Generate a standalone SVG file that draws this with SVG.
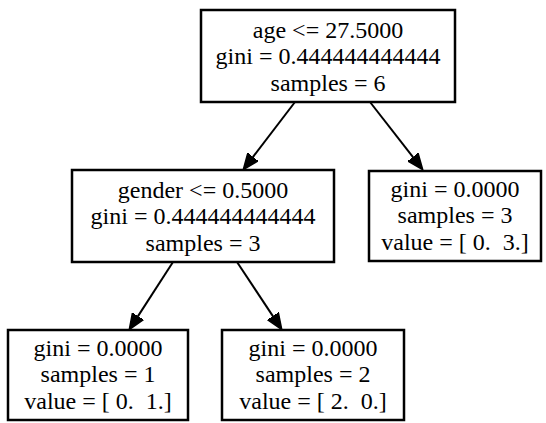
<svg xmlns="http://www.w3.org/2000/svg" width="546" height="423" viewBox="0 0 546 423">
<style>
.box{fill:#fff;stroke:#000;stroke-width:2.5}
text{font-family:"Liberation Serif","Times New Roman",serif;font-size:24px;fill:#000;text-anchor:middle;white-space:pre}
.edge{stroke:#000;stroke-width:2;fill:none}
</style>
<defs>
<marker id="ah" viewBox="0 -7 17 14" markerWidth="17" markerHeight="14" refX="0.5" refY="0" orient="auto" markerUnits="userSpaceOnUse">
<path d="M0,-6.5 L16,0 L0,6.5 z" fill="#000" stroke="#000" stroke-width="1.5"/>
</marker>
</defs>
<rect width="546" height="423" fill="#fff"/>
<g id="edges">
<line class="edge" x1="295" y1="102" x2="252.7" y2="157.3" marker-end="url(#ah)"/>
<line class="edge" x1="370" y1="102" x2="413.2" y2="157.4" marker-end="url(#ah)"/>
<line class="edge" x1="173" y1="262" x2="137.7" y2="316.6" marker-end="url(#ah)"/>
<line class="edge" x1="237" y1="262" x2="273.2" y2="316.6" marker-end="url(#ah)"/>
</g>
<g id="node0">
<rect class="box" x="201" y="10" width="254" height="92"/>
<text x="328" y="37.5">age &lt;= 27.5000</text>
<text x="328" y="64">gini = 0.444444444444</text>
<text x="328" y="90.5">samples = 6</text>
</g>
<g id="node1">
<rect class="box" x="72" y="170" width="262" height="92"/>
<text x="203" y="197.5">gender &lt;= 0.5000</text>
<text x="203" y="224">gini = 0.444444444444</text>
<text x="203" y="250.5">samples = 3</text>
</g>
<g id="node4">
<rect class="box" x="369" y="171" width="172" height="90"/>
<text x="455" y="196.5">gini = 0.0000</text>
<text x="455" y="223">samples = 3</text>
<text x="455" y="249.5">value = [ 0.  3.]</text>
</g>
<g id="node2">
<rect class="box" x="8" y="330" width="180" height="90"/>
<text x="98" y="355.5">gini = 0.0000</text>
<text x="98" y="382">samples = 1</text>
<text x="98" y="408.5">value = [ 0.  1.]</text>
</g>
<g id="node3">
<rect class="box" x="222" y="330" width="182" height="90"/>
<text x="313" y="355.5">gini = 0.0000</text>
<text x="313" y="382">samples = 2</text>
<text x="313" y="408.5">value = [ 2.  0.]</text>
</g>
</svg>
